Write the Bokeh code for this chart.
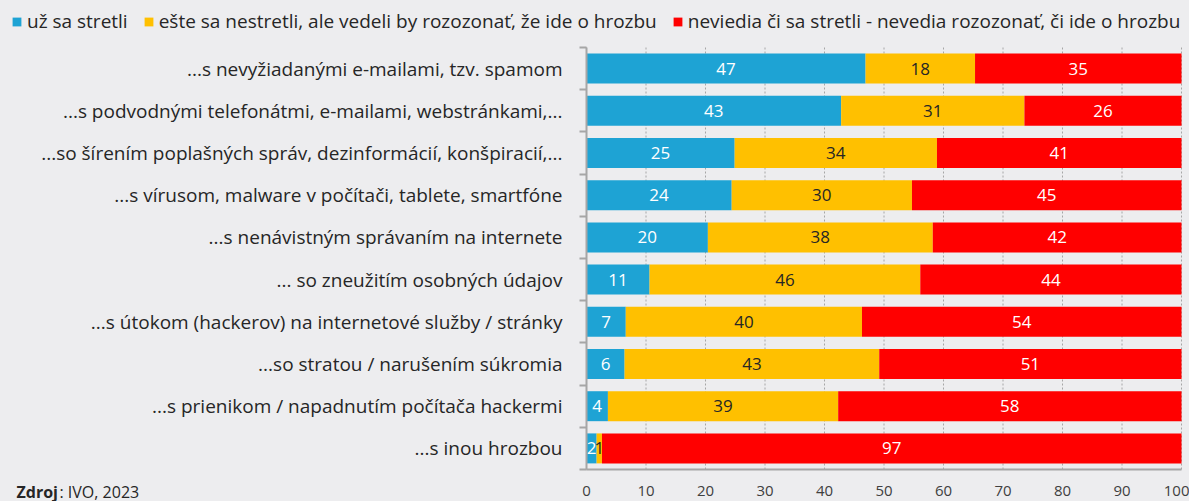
from bokeh.plotting import figure
from bokeh.models import (ColumnDataSource, Range1d, FixedTicker, Legend, LegendItem, Label)
from bokeh.core.properties import value
from bokeh.embed import file_html
from bokeh.resources import INLINE

categories = [
    "...s nevyžiadanými e-mailami, tzv. spamom",
    "...s podvodnými telefonátmi, e-mailami, webstránkami,...",
    "...so šírením poplašných správ, dezinformácií, konšpiracií,...",
    "...s vírusom, malware v počítači, tablete, smartfóne",
    "...s nenávistným správaním na internete",
    "... so zneužitím osobných údajov",
    "...s útokom (hackerov) na internetové služby / stránky",
    "...so stratou / narušením súkromia",
    "...s prienikom / napadnutím počítača hackermi",
    "...s inou hrozbou",
]
series_names = [
    "už sa stretli",
    "ešte sa nestretli, ale vedeli by rozozonať, že ide o hrozbu",
    "neviedia či sa stretli - nevedia rozozonať, či ide o hrozbu",
]
met = [46.9, 42.8, 24.9, 24.4, 20.4, 10.6, 6.6, 6.4, 3.6, 1.7]
would_know = [18.4, 30.8, 34.0, 30.3, 37.8, 45.5, 39.7, 42.8, 38.7, 0.9]
dont_know = [34.7, 26.4, 41.1, 45.3, 41.8, 43.9, 53.7, 50.8, 57.7, 97.4]
x_ticks = [0, 10, 20, 30, 40, 50, 60, 70, 80, 90, 100]
source_bold = "Zdroj"
source_rest = ": IVO, 2023"

colors = ["#1EA3D4", "#FFC000", "#FF0000"]
label_colors = ["#FFFFFF", "#262626", "#FFFFFF"]
BG = "#EDEDEF"
AX = "#A6A6A6"
FONT = "Open Sans"

W, H = 1189, 501
# pixel layout of the bar area inside the canvas
PX_L, PX_R, PX_T, PX_B = 586, 1181, 47, 469
n = len(categories)
XMAX = 100
sx = (PX_R - PX_L) / XMAX
sy = (PX_B - PX_T) / n
x_range = Range1d(-PX_L / sx, XMAX + (W - PX_R) / sx)
y_range = Range1d(n + (H - PX_B) / sy, -PX_T / sy)

p = figure(width=W, height=H, output_backend="svg", toolbar_location=None,
           x_range=x_range, y_range=y_range,
           min_border_left=0, min_border_right=0, min_border_top=0, min_border_bottom=0)
p.background_fill_color = BG
p.border_fill_color = BG
p.outline_line_color = None
p.xgrid.visible = False
p.ygrid.visible = False

# dashed vertical grid lines at the x ticks
p.segment(x0=x_ticks, x1=x_ticks, y0=[0] * len(x_ticks), y1=[n] * len(x_ticks),
          line_color=AX, line_dash="2 2", line_width=1)

ys = [i + 0.5 for i in range(n)]
series = [met, would_know, dont_know]
renderers = []
left = [0.0] * n
for k, vals in enumerate(series):
    right = [l + v for l, v in zip(left, vals)]
    src = ColumnDataSource(dict(y=ys, left=left, right=right,
                                mid=[(l + r) / 2 for l, r in zip(left, right)],
                                lab=[f"{v:.0f}" for v in vals]))
    r = p.hbar(y="y", left="left", right="right", height=0.71, source=src,
               fill_color=colors[k], line_color=None)
    renderers.append(r)
    p.text(x="mid", y="y", text="lab", source=src, text_align="center",
           text_baseline="middle", text_color=label_colors[k],
           text_font=value(FONT), text_font_size="17px")
    left = right

# x axis
xa = p.xaxis[0]
xa.fixed_location = n
xa.bounds = (0, XMAX)
xa.ticker = FixedTicker(ticks=x_ticks)
xa.axis_line_color = AX
xa.axis_line_width = 2
xa.major_tick_out = 0
xa.major_tick_in = 0
xa.minor_tick_out = 0
xa.minor_tick_in = 0
xa.major_label_standoff = 16
xa.major_label_text_font = FONT
xa.major_label_text_font_size = "15px"
xa.major_label_text_color = "#404040"

# y axis
ya = p.yaxis[0]
ya.fixed_location = 0
ya.bounds = (0, n)
ya.ticker = FixedTicker(ticks=ys, minor_ticks=list(range(n + 1)))
ya.major_label_overrides = {y: c for y, c in zip(ys, categories)}
ya.axis_line_color = AX
ya.axis_line_width = 2
ya.major_tick_out = 0
ya.major_tick_in = 0
ya.minor_tick_out = 7
ya.minor_tick_in = 0
ya.minor_tick_line_color = AX
ya.minor_tick_line_width = 2
ya.major_label_standoff = 17
ya.major_label_text_font = FONT
ya.major_label_text_font_size = "19px"
ya.major_label_text_color = "#262626"

legend = Legend(items=[LegendItem(label=s, renderers=[r]) for s, r in zip(series_names, renderers)],
                orientation="horizontal", location=(11, 467),
                glyph_width=11, glyph_height=11, label_standoff=5, spacing=15,
                padding=0, margin=0, border_line_color=None, background_fill_alpha=0,
                label_text_font=FONT, label_text_font_size="19px", label_text_color="#262626")
p.add_layout(legend, "center")

p.add_layout(Label(x=16, y=10, x_units="screen", y_units="screen", text=source_bold,
                   text_baseline="middle",
                   text_font=FONT, text_font_size="16px", text_font_style="bold",
                   text_color="#262626"))
p.add_layout(Label(x=59, y=10, x_units="screen", y_units="screen", text=source_rest,
                   text_baseline="middle",
                   text_font=FONT, text_font_size="16px", text_color="#262626"))

open("out.html", "w").write(file_html(p, INLINE).replace("<head>", "<head><style>html,body{background:#EDEDEF}</style>", 1))
